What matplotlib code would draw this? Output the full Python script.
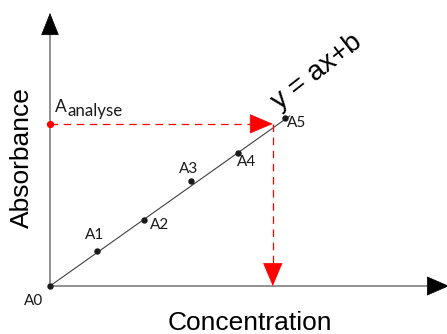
import matplotlib
matplotlib.use("Agg")
import matplotlib.pyplot as plt
import numpy as np

# calibration standards (arbitrary units)
conc = [0, 1, 2, 3, 4, 5]
absorb = [0, 0.74, 1.40, 2.23, 2.83, 3.57]
labels = ["A0", "A1", "A2", "A3", "A4", "A5"]
label_offsets = [(-12, -10.5), (-1.5, 12), (11, -3.6), (-2, 8.6), (6.5, -6.5), (8, -3.6)]

# unknown sample
abs_analyse = 3.45
conc_analyse = 4.74

line_end = 5.1
x_axis_end = 8.49
y_axis_end = 5.81

px = 47.0  # pixels per unit, same for both axes

fig = plt.figure(figsize=(4.47, 3.34), dpi=100)
ax = fig.add_axes([0, 0, 1, 1])
ax.set_xlim(-50 / px, 397 / px)
ax.set_ylim(-48 / px, 286 / px)
ax.axis("off")


def head(tip, back, color, length=14.4, halfw=6.0):
    # arrowhead only, length / half-width in points
    ax.annotate("", xy=tip, xytext=back, annotation_clip=False,
                arrowprops=dict(arrowstyle="-|>,head_length=%f,head_width=%f" % (length, halfw),
                                mutation_scale=1, color=color, lw=0.5,
                                shrinkA=0, shrinkB=0))


grey = "#7f7f7f"
# axes
ax.plot([0, x_axis_end - 0.3], [0, 0], color=grey, lw=1.2, solid_capstyle="butt")
ax.plot([0, 0], [0, y_axis_end - 0.3], color=grey, lw=1.2, solid_capstyle="butt")
head((x_axis_end, 0), (x_axis_end - 0.43, 0), "black", 15.0, 6.5)
head((0, y_axis_end), (0, y_axis_end - 0.43), "black", 15.0, 6.0)

# calibration line y = ax + b through origin
slope = np.polyfit(conc[1:], absorb[1:], 1)[0]
xs = np.array([0, line_end])
ax.plot(xs, slope * xs, color="#404040", lw=0.8)

ax.plot(conc, absorb, "o", color="#1a1a1a", ms=3.6, zorder=5)
for c, a, lab, off in zip(conc, absorb, labels, label_offsets):
    ax.annotate(lab, (c, a), xytext=off, textcoords="offset points",
                ha="center", va="center", fontsize=11, family="Lato", color="#1a1a1a")

# analysis: horizontal then vertical
red = "#ff0000"
dash = (0, (6, 4.5))
ax.plot([0, conc_analyse - 0.4], [abs_analyse, abs_analyse], color=red, lw=0.9, linestyle=dash)
ax.plot([conc_analyse, conc_analyse], [abs_analyse, 0.4], color=red, lw=0.9, linestyle=dash)
head((conc_analyse, abs_analyse), (conc_analyse - 0.45, abs_analyse), red, 15.6, 6.6)
head((conc_analyse, 0), (conc_analyse, 0.45), red, 15.6, 6.6)
ax.plot([0], [abs_analyse], "o", color=red, ms=4.2, zorder=6)

ax.annotate("A", (0, abs_analyse), xytext=(3.6, 8.2), textcoords="offset points",
            ha="left", va="baseline", fontsize=12.5, family="Lato", color="#1a1a1a")
ax.annotate("analyse", (0, abs_analyse), xytext=(12.4, 5.4), textcoords="offset points",
            ha="left", va="baseline", fontsize=12.2, family="Lato", color="#1a1a1a")

ax.annotate("y = ax+b", (conc[-1], absorb[-1]), xytext=(23, 33.5), textcoords="offset points",
            ha="center", va="center", rotation=38, rotation_mode="anchor",
            fontsize=20, family="Liberation Sans", color="black")

fig.text(22 / 447, 1 - 158 / 334, "Absorbance", rotation=90, ha="center", va="center",
         fontsize=19, family="Liberation Sans")
fig.text(250 / 447, 1 - 323 / 334, "Concentration", ha="center", va="center",
         fontsize=19, family="Liberation Sans")

fig.savefig("out.png", dpi=100)
